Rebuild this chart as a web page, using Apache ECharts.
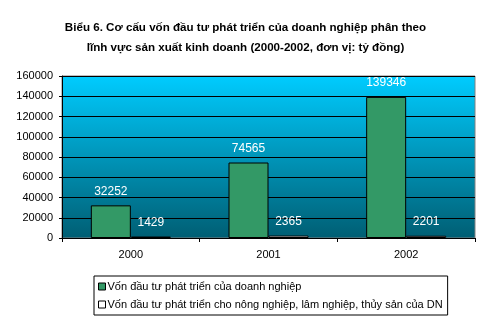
<!DOCTYPE html>
<html><head><meta charset="utf-8">
<script src="https://cdn.jsdelivr.net/npm/echarts@6/dist/echarts.min.js"></script>
<style>html,body{margin:0;padding:0;background:#fff}#c{width:491px;height:326px}</style>
</head><body><div id="c"></div>
<script>
var categories = ['2000', '2001', '2002'];
var seriesNames = ['Vốn đầu tư phát triển của doanh nghiệp', 'Vốn đầu tư phát triển cho nông nghiệp, lâm nghiệp, thủy sản của DN'];
var totalInvest = [32252, 74565, 139346];
var agriInvest = [1429, 2365, 2201];
var yTicks = [0, 20000, 40000, 60000, 80000, 100000, 120000, 140000, 160000];

var chart = echarts.init(document.getElementById('c'));
var F = 'Arial, "Liberation Sans", sans-serif';
chart.setOption({
  animation: false,
  title: {
    text: 'Biểu 6. Cơ cấu vốn đầu tư phát triển của doanh nghiệp phân theo\nlĩnh vực sản xuất kinh doanh (2000-2002, đơn vị: tỷ đồng)',
    left: 'center', top: 13,
    textStyle: {fontFamily: F, fontSize: 11.6, fontWeight: 'bold', color: '#000', lineHeight: 20}
  },
  grid: {
    left: 62, right: 16, top: 76, bottom: 88, containLabel: false,
    show: true,
    borderColor: '#808080', borderWidth: 1,
    backgroundColor: {type: 'linear', x: 0, y: 0, x2: 0, y2: 1,
      colorStops: [{offset: 0, color: '#00CCFF'}, {offset: 1, color: '#005E73'}]}
  },
  legend: {
    orient: 'vertical', left: 94, top: 276,
    borderColor: '#000', borderWidth: 1, padding: [5, 5, 5, 4],
    itemWidth: 7, itemHeight: 7, itemGap: 7,
    textStyle: {fontFamily: F, fontSize: 11, color: '#000', padding: [0, 0, 0, -3]},
    data: [
      {name: seriesNames[0], icon: 'rect', itemStyle: {color: '#339966', borderColor: '#000', borderWidth: 1}},
      {name: seriesNames[1], icon: 'rect', itemStyle: {color: '#fff', borderColor: '#000', borderWidth: 1}}
    ]
  },
  xAxis: {
    type: 'category', data: categories,
    axisLine: {lineStyle: {color: '#000', width: 1}},
    axisTick: {show: true, length: 4, lineStyle: {color: '#000'}},
    axisLabel: {fontFamily: F, fontSize: 11, color: '#000', margin: 11},
    splitLine: {show: false}
  },
  yAxis: {
    type: 'value', min: yTicks[0], max: yTicks[yTicks.length - 1], interval: yTicks[1] - yTicks[0],
    axisLine: {show: true, lineStyle: {color: '#000', width: 1}},
    axisTick: {show: true, length: 3, lineStyle: {color: '#000'}},
    axisLabel: {fontFamily: F, fontSize: 11, color: '#000', margin: 9, formatter: function (v) { return String(v); }},
    splitLine: {show: true, lineStyle: {color: '#000', width: 1}}
  },
  series: [
    {name: seriesNames[0], type: 'bar', data: totalInvest, barWidth: 40, barGap: '0%',
      itemStyle: {color: '#339966', borderColor: '#000', borderWidth: 1},
      label: {show: true, position: 'top', distance: 8, color: '#fff', fontFamily: F, fontSize: 12}},
    {name: seriesNames[1], type: 'bar', data: agriInvest, barWidth: 40, barGap: '0%',
      itemStyle: {color: '#fff', borderColor: '#000', borderWidth: 1},
      label: {show: true, position: 'top', distance: 8, color: '#fff', fontFamily: F, fontSize: 12}}
  ]
});
</script></body></html>
